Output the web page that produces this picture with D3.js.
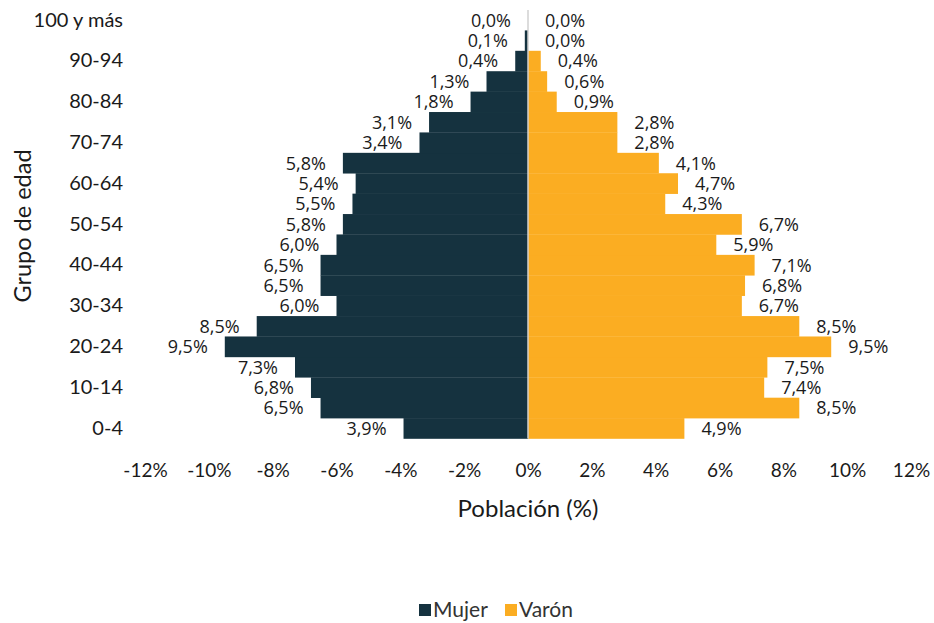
<!DOCTYPE html>
<html>
<head>
<meta charset="utf-8">
<script src="https://cdn.jsdelivr.net/npm/d3@7"></script>
<style>
body{margin:0;background:#fff;}
svg{display:block;}
</style>
</head>
<body>
<svg id="chart" width="934" height="623"></svg>
<script>
// age groups, bottom to top
var ageGroups = ['0-4','5-9','10-14','15-19','20-24','25-29','30-34','35-39','40-44','45-49',
	'50-54','55-59','60-64','65-69','70-74','75-79','80-84','85-89','90-94','95-99','100 y más'];
var mujer = [3.9,6.5,6.8,7.3,9.5,8.5,6.0,6.5,6.5,6.0,5.8,5.5,5.4,5.8,3.4,3.1,1.8,1.3,0.4,0.1,0.0];
var varon = [4.9,8.5,7.4,7.5,9.5,8.5,6.7,6.8,7.1,5.9,6.7,4.3,4.7,4.1,2.8,2.8,0.9,0.6,0.4,0.0,0.0];
var xTicks = [-12,-10,-8,-6,-4,-2,0,2,4,6,8,10,12];
var yTickLabels = ['0-4','10-14','20-24','30-34','40-44','50-54','60-64','70-74','80-84','90-94','100 y más'];
var seriesNames = ['Mujer','Varón'];
var colors = ['#15323f','#fbad22'];

var svg = d3.select('#chart');

var xScale = d3.scaleLinear()
	.domain([-12,12])
	.range([145,911]);

var yScale = d3.scaleBand()
	.domain(ageGroups)
	.range([438.5,10])
	.padding(0);

var fmt = function(v){ return d3.format('.1f')(v).replace('.',',') + '%'; };

// bars
var rows = ageGroups.map(function(g,i){ return {g:g, m:mujer[i], v:varon[i]}; });

svg.append('g').selectAll('rect')
	.data(rows)
	.enter()
	.append('rect')
	.attr('x',function(d){ return xScale(-d.m); })
	.attr('y',function(d){ return yScale(d.g); })
	.attr('width',function(d){ return xScale(0)-xScale(-d.m); })
	.attr('height',yScale.bandwidth()+0.3)
	.attr('fill',colors[0]);

svg.append('g').selectAll('rect')
	.data(rows)
	.enter()
	.append('rect')
	.attr('x',xScale(0))
	.attr('y',function(d){ return yScale(d.g); })
	.attr('width',function(d){ return xScale(d.v)-xScale(0); })
	.attr('height',yScale.bandwidth()+0.3)
	.attr('fill',colors[1]);

// zero line
svg.append('line')
	.attr('x1',xScale(0)).attr('x2',xScale(0))
	.attr('y1',yScale.range()[1]).attr('y2',yScale.range()[0])
	.attr('stroke','#d0d0d0')
	.attr('stroke-width',1.5);

// data labels
var labelFont = {family:'"Open Sans", sans-serif', size:'18px'};

svg.append('g').selectAll('text')
	.data(rows)
	.enter()
	.append('text')
	.text(function(d){ return fmt(d.m); })
	.attr('x',function(d){ return xScale(-d.m)-17; })
	.attr('y',function(d){ return yScale(d.g)+yScale.bandwidth()/2; })
	.attr('dy','0.36em')
	.attr('text-anchor','end')
	.attr('font-family',labelFont.family)
	.attr('font-size',labelFont.size)
	.attr('fill','#1a1a1a');

svg.append('g').selectAll('text')
	.data(rows)
	.enter()
	.append('text')
	.text(function(d){ return fmt(d.v); })
	.attr('x',function(d){ return xScale(d.v)+17; })
	.attr('y',function(d){ return yScale(d.g)+yScale.bandwidth()/2; })
	.attr('dy','0.36em')
	.attr('text-anchor','start')
	.attr('font-family',labelFont.family)
	.attr('font-size',labelFont.size)
	.attr('fill','#1a1a1a');

// x axis
var xAxisGen = d3.axisBottom(xScale)
	.tickValues(xTicks)
	.tickSize(0)
	.tickPadding(0)
	.tickFormat(function(d){ return d + '%'; });

var xAxis = svg.append('g')
	.attr('transform','translate(0,463)')
	.call(xAxisGen);
xAxis.select('.domain').remove();
xAxis.selectAll('text')
	.attr('font-family','Lato, sans-serif')
	.attr('font-size','19px')
	.attr('fill','#1a1a1a');

// y axis
var yAxisGen = d3.axisLeft(yScale)
	.tickValues(yTickLabels)
	.tickSize(0)
	.tickPadding(0);

var yAxis = svg.append('g')
	.attr('transform','translate(123,0)')
	.call(yAxisGen);
yAxis.select('.domain').remove();
yAxis.selectAll('text')
	.attr('font-family','Lato, sans-serif')
	.attr('font-size','20px')
	.attr('fill','#1a1a1a');

// axis titles
svg.append('text')
	.text('Población (%)')
	.attr('x',xScale(0))
	.attr('y',517)
	.attr('text-anchor','middle')
	.attr('font-family','Lato, sans-serif')
	.attr('font-size','24px')
	.attr('fill','#1a1a1a');

svg.append('text')
	.text('Grupo de edad')
	.attr('transform','translate(31,226) rotate(-90)')
	.attr('text-anchor','middle')
	.attr('font-family','Lato, sans-serif')
	.attr('font-size','23.5px')
	.attr('fill','#1a1a1a');

// legend
var legend = svg.append('g')
	.attr('transform','translate(419,610)');

var legendX = [0,86];
var items = legend.selectAll('g')
	.data(seriesNames)
	.enter()
	.append('g')
	.attr('transform',function(d,i){ return 'translate('+legendX[i]+',0)'; });

items.append('rect')
	.attr('x',0)
	.attr('y',-6)
	.attr('width',12)
	.attr('height',12)
	.attr('fill',function(d,i){ return colors[i]; });

items.append('text')
	.text(function(d){ return d; })
	.attr('x',14)
	.attr('y',0)
	.attr('dy','0.35em')
	.attr('font-family','Lato, sans-serif')
	.attr('font-size','21px')
	.attr('fill','#333');
</script>
</body>
</html>
